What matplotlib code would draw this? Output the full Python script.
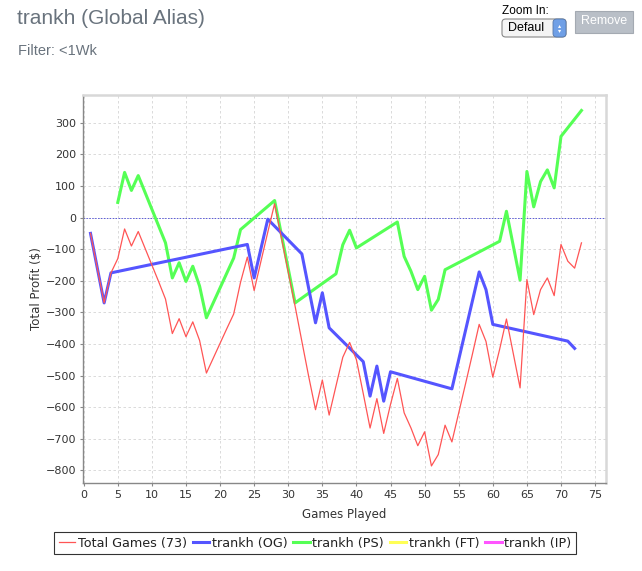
import matplotlib
matplotlib.use('Agg')
from matplotlib import pyplot as plt
from matplotlib.patches import FancyBboxPatch, Rectangle

# cumulative profit, every game
total_games = list(range(1, 74))
total_profit = [-50, -160, -270, -175, -130, -36, -90, -44, -97, -150,
                -203, -258, -367, -320, -377, -330, -389, -492, -445, -398,
                -351, -305, -205, -125, -231, -138, -46, 44, -64, -172,
                -280, -392, -503, -608, -514, -625, -533, -442, -395, -450,
                -557, -666, -573, -683, -591, -509, -618, -666, -722, -678,
                -786, -750, -657, -710, -618, -526, -433, -338, -392, -505,
                -417, -321, -430, -539, -196, -307, -228, -191, -247, -85,
                -138, -160, -80]

og_games = [1, 3, 4, 24, 25, 27, 32, 34, 35, 36, 41, 42, 43, 44, 45, 54, 58, 59, 60, 71, 72]
og_profit = [-50, -270, -175, -85, -191, -5, -115, -333, -238, -349, -456, -565,
             -470, -581, -488, -542, -172, -228, -338, -391, -414]

ps_games = [5, 6, 7, 8, 12, 13, 14, 15, 16, 17, 18, 22, 23, 28, 31, 37, 38, 39, 40,
            46, 47, 48, 49, 50, 51, 52, 53, 61, 62, 64, 65, 66, 67, 68, 69, 70, 73]
ps_profit = [48, 143, 86, 133, -80, -191, -143, -202, -154, -217, -317, -128, -38,
             54, -270, -178, -86, -40, -96, -14, -123, -170, -228, -186, -293, -259,
             -165, -75, 20, -198, 146, 34, 114, 151, 94, 257, 339]

labels = ['Total Games (73)', 'trankh (OG)', 'trankh (PS)', 'trankh (FT)', 'trankh (IP)']
colors = ['#FF5555', '#5555FF', '#55FF55', '#FFFF55', '#FF55FF']

W, H = 642, 571
fig = plt.figure(figsize=(W / 100, H / 100), dpi=100)
fig.patch.set_facecolor('white')

def fx(px):
    return px / W

def fy(py):
    return 1 - py / H

# page header
fig.text(fx(17), fy(19), 'trankh (Global Alias)', fontsize=15, family='Liberation Sans',
         color='#69737d', va='center', ha='left')
fig.text(fx(18), fy(51), 'Filter: <1Wk', fontsize=10.5, family='Liberation Sans',
         color='#69737d', va='center', ha='left')

# zoom widget + remove button
fig.text(fx(502), fy(11), 'Zoom In:', fontsize=8.5, family='Liberation Sans',
         color='black', va='center', ha='left')
sel = FancyBboxPatch((fx(502), fy(37)), fx(64), 18 / H, boxstyle='round,pad=0,rounding_size=0.006',
                     transform=fig.transFigure, facecolor='#f4f4f4', edgecolor='#888888', lw=0.8)
fig.patches.append(sel)
arrow = FancyBboxPatch((fx(553), fy(37)), fx(13), 18 / H, boxstyle='round,pad=0,rounding_size=0.006',
                       transform=fig.transFigure, facecolor='#6f9fe6', edgecolor='#5577aa', lw=0.6)
fig.patches.append(arrow)
fig.text(fx(508), fy(28), 'Defaul', fontsize=9, family='Liberation Sans',
         color='black', va='center', ha='left')
fig.text(fx(559.5), fy(28), '\u25b4\n\u25be', fontsize=4.5, color='white', va='center',
         ha='center', linespacing=0.8)
btn = Rectangle((fx(575), fy(33)), fx(58), 22 / H, transform=fig.transFigure,
                facecolor='#b9bfc7', edgecolor='#a4aab2', lw=0.8)
fig.patches.append(btn)
fig.text(fx(604), fy(21.5), 'Remove', fontsize=9, family='Liberation Sans', color='white',
         va='center', ha='center')

# chart
ax = fig.add_axes([fx(83), fy(483), fx(606 - 83), (483 - 95) / H])
ax.plot(total_games, total_profit, color=colors[0], lw=0.9, label=labels[0], zorder=5)
ax.plot(og_games, og_profit, color=colors[1], lw=2.2, label=labels[1], zorder=4)
ax.plot(ps_games, ps_profit, color=colors[2], lw=2.2, label=labels[2], zorder=3)
ax.plot([], [], color=colors[3], lw=2.2, label=labels[3])
ax.plot([], [], color=colors[4], lw=2.2, label=labels[4])
ax.axhline(0, color='#5a5ad8', lw=0.7, linestyle=(0, (1.5, 1.5)), zorder=1)

ax.set_xlim(-0.1, 76.6)
ax.set_ylim(-840, 388)
ax.set_xticks(range(0, 76, 5))
ax.set_yticks(range(-800, 301, 100))
ax.grid(True, color='#d4d4d4', lw=0.6, linestyle=(0, (3, 3)))
ax.set_axisbelow(True)
for side in ['left', 'bottom']:
    ax.spines[side].set_color('#888888')
    ax.spines[side].set_linewidth(1.0)
for side in ['top', 'right']:
    ax.spines[side].set_color('#d8d8d8')
    ax.spines[side].set_linewidth(1.8)
ax.tick_params(axis='both', length=2, width=0.8, color='#888888', labelsize=8,
               labelcolor='#333333', pad=3)
ax.set_xlabel('Games Played', fontsize=8.5, color='#333333', labelpad=6)
ax.set_ylabel('Total Profit ($)', fontsize=8.5, color='#333333', labelpad=2)

handles, labs = ax.get_legend_handles_labels()
leg = fig.legend(handles, labs, loc='center', bbox_to_anchor=(fx(315), fy(543)), ncol=5,
                 fontsize=9.2, frameon=True, fancybox=False, edgecolor='black',
                 handlelength=1.3, handletextpad=0.2, columnspacing=0.45, borderpad=0.35,
                 borderaxespad=0)
leg.get_frame().set_linewidth(0.8)
for t in leg.get_texts():
    t.set_color('#222222')

fig.savefig('out.png', dpi=100)
